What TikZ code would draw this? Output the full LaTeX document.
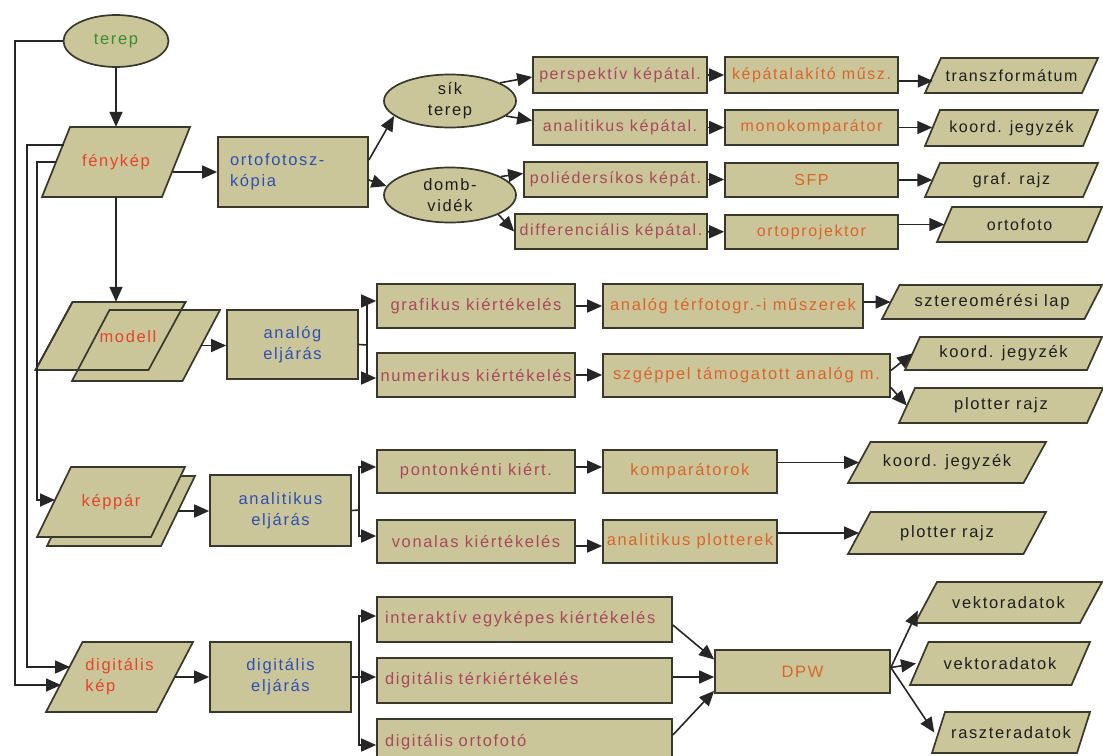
\documentclass[tikz,border=0pt]{standalone}
\usepackage{fontspec}
\setmainfont{Liberation Sans}
\newfontfamily\labfont[LetterSpace=10]{Liberation Sans}
\usetikzlibrary{shapes.geometric,arrows.meta,calc}
\definecolor{khaki}{HTML}{CAC69A}
\definecolor{bord}{HTML}{38382C}
\definecolor{tred}{HTML}{E5432B}
\definecolor{tgreen}{HTML}{3C8C32}
\definecolor{tblue}{HTML}{2F4FB0}
\definecolor{tpink}{HTML}{A8485A}
\definecolor{torange}{HTML}{D9652B}
\definecolor{tblack}{HTML}{1E1E1E}
\definecolor{lnc}{HTML}{262626}
% parallelogram: name, cx, cy, edge width, height, slant offset, node options, text
\newcommand{\pgram}[8]{%
  \filldraw[pg] ({#2-#4/2-#6/2},{#3+#5/2}) -- ({#2+#4/2-#6/2},{#3+#5/2})
     -- ({#2+#4/2+#6/2},{#3-#5/2}) -- ({#2-#4/2+#6/2},{#3-#5/2}) -- cycle;
  \node[rectangle, inner sep=0pt, minimum width=#4pt, minimum height=#5pt, #7] (#1) at (#2,#3) {#8};}
\begin{document}
\begin{tikzpicture}[x=1pt,y=-1pt,
  font=\labfont\fontsize{16.5}{21}\selectfont,
  topf/.style={font=\labfont\fontsize{16}{20}\selectfont},
  base/.style={draw=bord, fill=khaki, line width=1.7pt, inner sep=0pt},
  pg/.style={draw=bord, fill=khaki, line width=1.7pt, line join=miter},
  sz/.style 2 args={minimum width=#1pt, minimum height=#2pt},
  box/.style={base, rectangle},
  lbox/.style={base, rectangle, align=left, inner xsep=8pt},
  ell/.style={base, ellipse, align=center},
  outl/.style={draw=bord, line width=1.7pt, line join=miter},
  ln/.style={draw=lnc, line width=1.6pt},
  arr/.style={draw=lnc, line width=1.6pt, -{Triangle[length=15pt,width=13pt]}}
]
\useasboundingbox (0,0) rectangle (1103,755);
\fill[white] (0,0) rectangle (1103,755);
\clip (0,0) rectangle (1103,755);

% ---------- row 1 ----------
\node[ell, sz={105}{52}, text=tgreen] (terep) at (116,41) {terep};
\pgram{fenykep}{116}{162}{120}{70}{28}{text=tred}{fénykép}
\node[box, sz={150}{70}, text=tblue, align=left, text width=126pt, inner xsep=12pt] (orto) at (293,172) {ortofotosz-\\kópia};
\node[ell, sz={132}{53}, text=tblack] (sik) at (450,101) {sík\\terep};
\node[ell, sz={132}{55}, text=tblack] (domb) at (450,195) {domb-\\vidék};

\node[box, topf, sz={174}{36}, text=tpink] (persp) at (620,75) {perspektív képátal.};
\node[box, topf, sz={174}{35}, text=tpink] (anal1) at (620,127.5) {analitikus képátal.};
\node[box, topf, sz={183}{35}, text=tpink] (poli) at (615.5,179.5) {poliédersíkos képát.};
\node[box, topf, sz={192}{35}, text=tpink] (diff) at (611,231.5) {differenciális képátal.};

\node[box, topf, sz={173}{36}, text=torange] (kepat) at (811.5,75) {képátalakító műsz.};
\node[box, topf, sz={173}{35}, text=torange] (mono) at (811.5,127.5) {monokomparátor};
\node[box, topf, sz={173}{34}, text=torange] (sfp) at (811.5,180) {SFP};
\node[box, topf, sz={173}{34}, text=torange] (ortoproj) at (811.5,232) {ortoprojektor};

\pgram{transz}{1011.5}{75.5}{157}{35}{16}{text=tblack, topf}{transzformátum}
\pgram{koord1}{1011.5}{128}{158}{36}{15}{text=tblack, topf}{koord. jegyzék}
\pgram{graf}{1011.5}{180}{158}{34}{15}{text=tblack, topf}{graf. rajz}
\pgram{ortofoto}{1019.5}{224.5}{150}{35}{15}{text=tblack, topf}{ortofoto}

% ---------- row 2 ----------
\pgram{modellA}{110.5}{336}{113}{68}{37}{}{}
\pgram{modellB}{146}{345.5}{110.5}{71}{37.5}{}{}
\draw[outl] (35.5,370) -- (148.5,370) -- (185.5,302) -- (72.5,302) -- cycle;
\node[text=tred] (modelltxt) at (128,337) {modell};
\node[box, sz={131}{69}, text=tblue, align=center] (analog) at (292.5,344.5) {analóg\\eljárás};
\coordinate (brA) at (367,345);
\node[box, sz={198}{44}, text=tpink] (grafikus) at (476,306) {grafikus kiértékelés};
\node[box, sz={198}{44}, text=tpink] (numerikus) at (476,375) {numerikus kiértékelés};
\node[box, sz={260}{44}, text=torange] (analogter) at (733,306) {analóg térfotogr.-i műszerek};
\node[box, sz={287}{43}, text=torange] (szgep) at (746.5,375.5) {szgéppel támogatott analóg m.};
\pgram{sztereo}{992}{302}{202.5}{34}{17.5}{text=tblack}{sztereomérési lap}
\pgram{koord2}{1003.5}{353.5}{182}{33}{15}{text=tblack}{koord. jegyzék}
\pgram{plotter2}{1001}{405.5}{188}{35}{16}{text=tblack}{plotter rajz}

% ---------- row 3 ----------
\pgram{kepparB}{121}{511}{114}{70}{34}{}{}
\pgram{kepparA}{111}{502}{114}{70}{34}{text=tred}{képpár}
\node[box, sz={141}{71}, text=tblue, align=center] (analel) at (280.5,510.5) {analitikus\\eljárás};
\coordinate (brB) at (359,510);
\node[box, sz={198}{43}, text=tpink] (pont) at (476,471.5) {pontonkénti kiért.};
\node[box, sz={198}{43}, text=tpink] (vonal) at (476,541.5) {vonalas kiértékelés};
\node[box, sz={174}{43}, text=torange] (komp) at (690,471.5) {komparátorok};
\node[box, sz={174}{43}, text=torange] (aplot) at (690,541.5) {analitikus plotterek};
\pgram{koord3}{947}{462.5}{175.5}{41}{22.5}{text=tblack}{koord. jegyzék}
\pgram{plotter3}{947}{533}{175.5}{42}{22.5}{text=tblack}{plotter rajz}

% ---------- row 4 ----------
\pgram{digkep}{119.5}{677}{110.5}{70}{36.5}{text=tred, align=left}{digitális\\kép}
\node[box, sz={141}{70}, text=tblue, align=center] (digel) at (280.5,677) {digitális\\eljárás};
\coordinate (brC) at (359,677);
\node[lbox, sz={295}{45}, text width=279pt, text=tpink] (inter) at (524.5,619.5) {interaktív egyképes kiértékelés};
\node[lbox, sz={295}{45}, text width=279pt, text=tpink] (dter) at (524.5,680.5) {digitális térkiértékelés};
\node[lbox, sz={295}{46}, text width=279pt, text=tpink] (dorto) at (524.5,742) {digitális ortofotó};
\node[box, sz={175}{43}, text=torange] (dpw) at (802.5,671.5) {DPW};
\pgram{vekt1}{1008.5}{602.5}{165}{41}{22}{text=tblack}{vektoradatok}
\pgram{vekt2}{1000}{663.5}{161.5}{43}{18.5}{text=tblack}{vektoradatok}
\pgram{raszt}{1011}{732.5}{145}{41}{13}{text=tblack}{raszteradatok}

% ---------- connectors row 1 ----------
\draw[arr] (terep.south) -- (terep.south |- fenykep.north);
\coordinate (fkR) at (173,172);
\draw[arr] (fkR) -- (fkR -| orto.west);
\draw[arr] ([yshift=12pt]orto.east) -- (sik.195);
\draw[arr] ([yshift=-8pt]orto.east) -- (domb.172);
\draw[arr] (sik.20) -- ([yshift=-2pt]persp.west);
\draw[arr] (sik.-15) -- ([yshift=7pt]anal1.west);
\draw[arr] (domb.20) -- ([yshift=6pt]poli.west);
\draw[arr] (domb.-22) -- (diff.west);
\draw[arr] (persp) -- (kepat);
\draw[arr] (anal1) -- (mono);
\draw[arr] (poli.east) -- (poli.east -| sfp.west);
\draw[arr] (diff) -- (ortoproj);
\draw[arr] ([yshift=-6pt]kepat.east) -- ([yshift=-6pt]kepat.east -| transz.west);
\draw[arr] (mono.east) -- (mono.east -| koord1.west);
\draw[arr] (sfp.east) -- (sfp.east -| graf.west);
\draw[arr] (ortoproj.east |- ortofoto.west) -- (ortofoto.west);

% ---------- connectors row 2 ----------
\draw[arr] (fenykep.south) -- (fenykep.south |- modellA.north);
\draw[arr] (modellB.east) -- (modellB.east -| analog.west);
\draw[ln] (analog.east) -- (brA);
\draw[arr] (brA) |- ([yshift=5pt]grafikus.west);
\draw[arr] (brA) |- ([yshift=-3pt]numerikus.west);
\draw[arr] (grafikus) -- (analogter);
\draw[arr] (numerikus.east) -- (numerikus.east -| szgep.west);
\draw[arr] (analogter.east |- sztereo.west) -- (sztereo.west);
\draw[arr] ([yshift=5pt]szgep.east) -- (koord2.west);
\draw[arr] ([yshift=-12pt]szgep.east) -- (plotter2.west);

% ---------- connectors row 3 ----------
\draw[arr] (kepparB.east) -- (kepparB.east -| analel.west);
\draw[ln] (analel.east) -- (brB);
\draw[arr] (brB) |- ([yshift=4.5pt]pont.west);
\draw[arr] (brB) |- ([yshift=5.5pt]vonal.west);
\draw[arr] ([yshift=4.5pt]pont.east) -- ([yshift=4.5pt]komp.west);
\draw[arr] ([yshift=-4.5pt]vonal.east) -- ([yshift=-4.5pt]aplot.west);
\draw[arr] (komp.east |- koord3.west) -- (koord3.west);
\draw[arr] (aplot.east |- plotter3.west) -- (plotter3.west);

% ---------- connectors row 4 ----------
\draw[arr] (digkep.east) -- (digkep.east -| digel.west);
\draw[ln] (digel.east) -- (brC);
\draw[arr] (brC) |- ([yshift=3.5pt]inter.west);
\draw[arr] (brC) |- ([yshift=3.5pt]dter.west);
\draw[arr] (brC) |- ([yshift=-3pt]dorto.west);
\draw[arr] ([yshift=-5.5pt]inter.east) -- ([yshift=12pt]dpw.west);
\draw[arr] ([yshift=3.5pt]dter.east) -- ([yshift=3.5pt]dter.east -| dpw.west);
\draw[arr] ([yshift=7pt]dorto.east) -- ([yshift=3pt]dpw.south west);
\draw[arr] ([yshift=4pt]dpw.east) -- ([yshift=-8pt,xshift=-8pt]vekt1.west);
\draw[arr] ([yshift=4pt]dpw.east) -- ([xshift=-3pt]vekt2.west);
\draw[arr] ([yshift=4pt]dpw.east) -- ([xshift=-4pt]raszt.west);

% ---------- left rails ----------
\coordinate (railA) at (15,0);
\coordinate (railB) at (27,0);
\coordinate (railC) at (37,0);
\coordinate (fkL) at (64,145);
\coordinate (inA) at (61,685);
\coordinate (inB) at (70,667);
\coordinate (inC) at (55,500);
\draw[arr] (terep.west) -| (railA |- inA) -- (inA);
\draw[arr] (fkL) -| (railB |- inB) -- (inB);
\draw[arr] (fenykep.west) -| (railC |- inC) -- (inC);
\end{tikzpicture}
\end{document}
